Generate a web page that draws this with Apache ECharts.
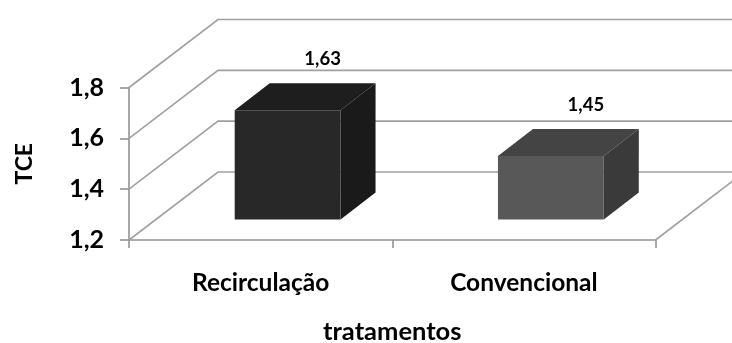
<!DOCTYPE html>
<html>
<head>
<meta charset="utf-8">
<style>html,body{margin:0;padding:0;background:#fff}#chart{width:732px;height:343px}</style>
<script src="https://cdn.jsdelivr.net/npm/echarts@6/dist/echarts.min.js"></script>
</head>
<body>
<div id="chart"></div>
<script>
// TCE por tratamento
const categories = ['Recirculação', 'Convencional'];
const tce = [1.63, 1.45];
const yTicks = [1.2, 1.4, 1.6, 1.8];
const faceColors = [
  { front: '#282828', top: '#1e1e1e', side: '#1a1a1a' },
  { front: '#585858', top: '#444444', side: '#3a3a3a' }
];

// Oblique projection of the pseudo-3D box
const wallDepth = { x: 89, y: 68 };
const barInset = { x: 27, y: 20.5 };
const barDepth = { x: 35, y: 27 };
const barShare = 0.402;
const gridColor = '#a0a0a0';
const axisColor = '#939393';
const font = 'Lato, Carlito, Calibri, sans-serif';
const comma = v => v.toFixed(2).replace('.', ',');

function renderWalls(params, api) {
  const v = api.value(1);
  const band = api.size([1, 0])[0];
  const p = api.coord([0, v]);
  const left = p[0] - band / 2;
  const right = left + band * categories.length;
  const lineStyle = { stroke: gridColor, lineWidth: 1.6, fill: null };
  const children = [{
    type: 'polyline',
    shape: { points: [[left, p[1]], [left + wallDepth.x, p[1] - wallDepth.y], [right + wallDepth.x, p[1] - wallDepth.y]] },
    style: lineStyle
  }];
  if (v === yTicks[0]) {
    children.push({
      type: 'line',
      shape: { x1: right, y1: p[1], x2: right + wallDepth.x, y2: p[1] - wallDepth.y },
      style: lineStyle
    });
  }
  return { type: 'group', children };
}

function renderBox(params, api) {
  const i = api.value(0);
  const v = api.value(1);
  const c = faceColors[i];
  const w = api.size([1, 0])[0] * barShare;
  const topPt = api.coord([i, v]);
  const basePt = api.coord([i, yTicks[0]]);
  const cx = topPt[0] + barInset.x;
  const x0 = cx - w / 2, x1 = cx + w / 2;
  const yT = topPt[1] - barInset.y, yB = basePt[1] - barInset.y;
  const d = barDepth;
  return {
    type: 'group',
    children: [
      { type: 'polygon', shape: { points: [[x0, yT], [x1, yT], [x1 + d.x, yT - d.y], [x0 + d.x, yT - d.y]] }, style: { fill: c.top } },
      { type: 'polygon', shape: { points: [[x1, yT], [x1 + d.x, yT - d.y], [x1 + d.x, yB - d.y], [x1, yB]] }, style: { fill: c.side } },
      { type: 'rect', shape: { x: x0, y: yT, width: w, height: yB - yT }, style: { fill: c.front } },
      {
        type: 'text',
        x: cx + d.x, y: yT - d.y - 24,
        style: { text: comma(v), fill: '#000', font: 'bold 18.5px ' + font, align: 'center', verticalAlign: 'middle' }
      }
    ]
  };
}

const chart = echarts.init(document.getElementById('chart'), null, { renderer: 'canvas' });
chart.setOption({
  animation: false,
  backgroundColor: '#fff',
  grid: { left: 129, right: 76.5, top: 87.5, bottom: 103, outerBoundsMode: 'none' },
  xAxis: {
    type: 'category',
    data: categories,
    name: 'tratamentos',
    nameLocation: 'middle',
    nameGap: 79,
    nameTextStyle: { fontFamily: font, fontWeight: 'bold', fontSize: 25.5, color: '#000' },
    axisLine: { show: true, lineStyle: { color: axisColor, width: 1.6 } },
    axisTick: { show: true, alignWithLabel: false, interval: 0, length: 8, lineStyle: { color: axisColor, width: 1.6 } },
    axisLabel: { margin: 31, fontFamily: font, fontWeight: 'bold', fontSize: 24.5, color: '#000' }
  },
  yAxis: {
    type: 'value',
    min: 1.2,
    max: 1.8,
    interval: 0.2,
    name: 'TCE',
    nameLocation: 'middle',
    nameGap: 93,
    nameTextStyle: { fontFamily: font, fontWeight: 'bold', fontSize: 23, color: '#000' },
    axisLine: { show: true, lineStyle: { color: axisColor, width: 1.6 } },
    axisTick: { show: true, length: 9, lineStyle: { color: axisColor, width: 1.6 } },
    axisLabel: {
      margin: 25,
      fontFamily: font, fontWeight: 'bold', fontSize: 25, color: '#000',
      formatter: v => v.toFixed(1).replace('.', ',')
    },
    splitLine: { show: false }
  },
  series: [
    {
      type: 'custom',
      clip: false,
      z: 1,
      renderItem: renderWalls,
      data: yTicks.map(v => [0, v]),
      encode: { x: 0, y: 1 },
      silent: true
    },
    {
      type: 'custom',
      clip: false,
      z: 3,
      renderItem: renderBox,
      data: tce.map((v, i) => [i, v]),
      encode: { x: 0, y: 1 }
    }
  ]
});
</script>
</body>
</html>
